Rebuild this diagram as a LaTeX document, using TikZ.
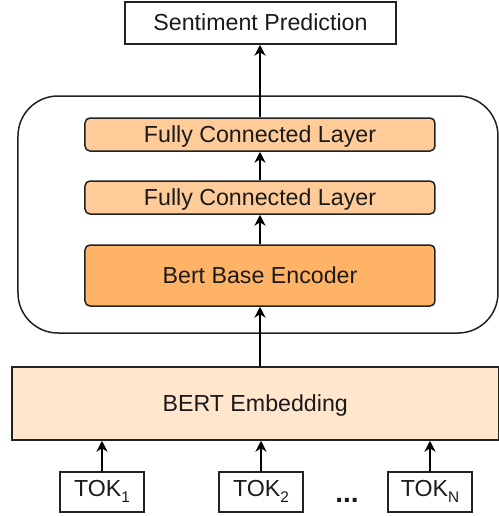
\documentclass[tikz,border=0pt]{standalone}
\usepackage{fontspec}
\setmainfont{Liberation Sans}
\usetikzlibrary{arrows.meta}
\definecolor{fcfill}{HTML}{FFCC99}
\definecolor{encfill}{HTML}{FFB366}
\definecolor{embfill}{HTML}{FFE6CC}
\definecolor{edge}{HTML}{222222}
\definecolor{txt}{HTML}{1A1A1A}
\newcommand{\toksub}[1]{\raisebox{-3pt}{\fontsize{7.7}{9}\selectfont #1}}
\tikzset{
  box/.style={draw=edge, line width=0.75pt, inner sep=0pt, text=txt,
    font=\fontsize{11.6}{14}\selectfont, anchor=center,
    text height=0.9em, text depth=0.15em},
  layer/.style={box, rounded corners=2.5pt, minimum width=175pt},
  tokbox/.style={box, minimum width=42pt, minimum height=20pt, text depth=0.5em},
  arr/.style={draw=black, line width=0.75pt, -{Stealth[length=5.5pt,width=5.5pt]}}
}
\begin{document}
\begin{tikzpicture}[x=0.5pt,y=-0.5pt]
\useasboundingbox (0,0) rectangle (499,516);
% container
\draw[edge, line width=0.75pt, rounded corners=20pt] (18,96) rectangle (498,333);
\node[box, minimum width=135.5pt, minimum height=21pt] (sent) at (260.5,23) {Sentiment Prediction};
\node[layer, fill=fcfill, minimum height=16.5pt] (fc1) at (260,134.5) {Fully Connected Layer};
\node[layer, fill=fcfill, minimum height=16.5pt] (fc2) at (260,197.5) {Fully Connected Layer};
\node[layer, fill=encfill, minimum height=30.5pt] (enc) at (260,275.5) {Bert Base Encoder};
\node[box, fill=embfill, minimum width=243.25pt, minimum height=36.5pt] (emb) at (255.25,403.5) {BERT Embedding};
\node[tokbox] (tok1) at (102,492) {TOK\toksub{1}};
\node[tokbox] (tok2) at (261,492) {TOK\toksub{2}};
\node[tokbox] (tokn) at (430,492) {TOK\toksub{N}};
\node[inner sep=0pt, anchor=base, text=txt, font=\fontsize{14}{16}\selectfont\bfseries] (dots) at (347,502) {...};
\draw[arr] (fc1.north) -- (sent.south -| fc1.north);
\draw[arr] (fc2.north) -- (fc1.south);
\draw[arr] (enc.north) -- (fc2.south);
\draw[arr] (enc.south |- emb.north) -- (enc.south);
\draw[arr] (tok1.north) -- (tok1.north |- emb.south);
\draw[arr] (tok2.north) -- (tok2.north |- emb.south);
\draw[arr] (tokn.north) -- (tokn.north |- emb.south);
\end{tikzpicture}
\end{document}
